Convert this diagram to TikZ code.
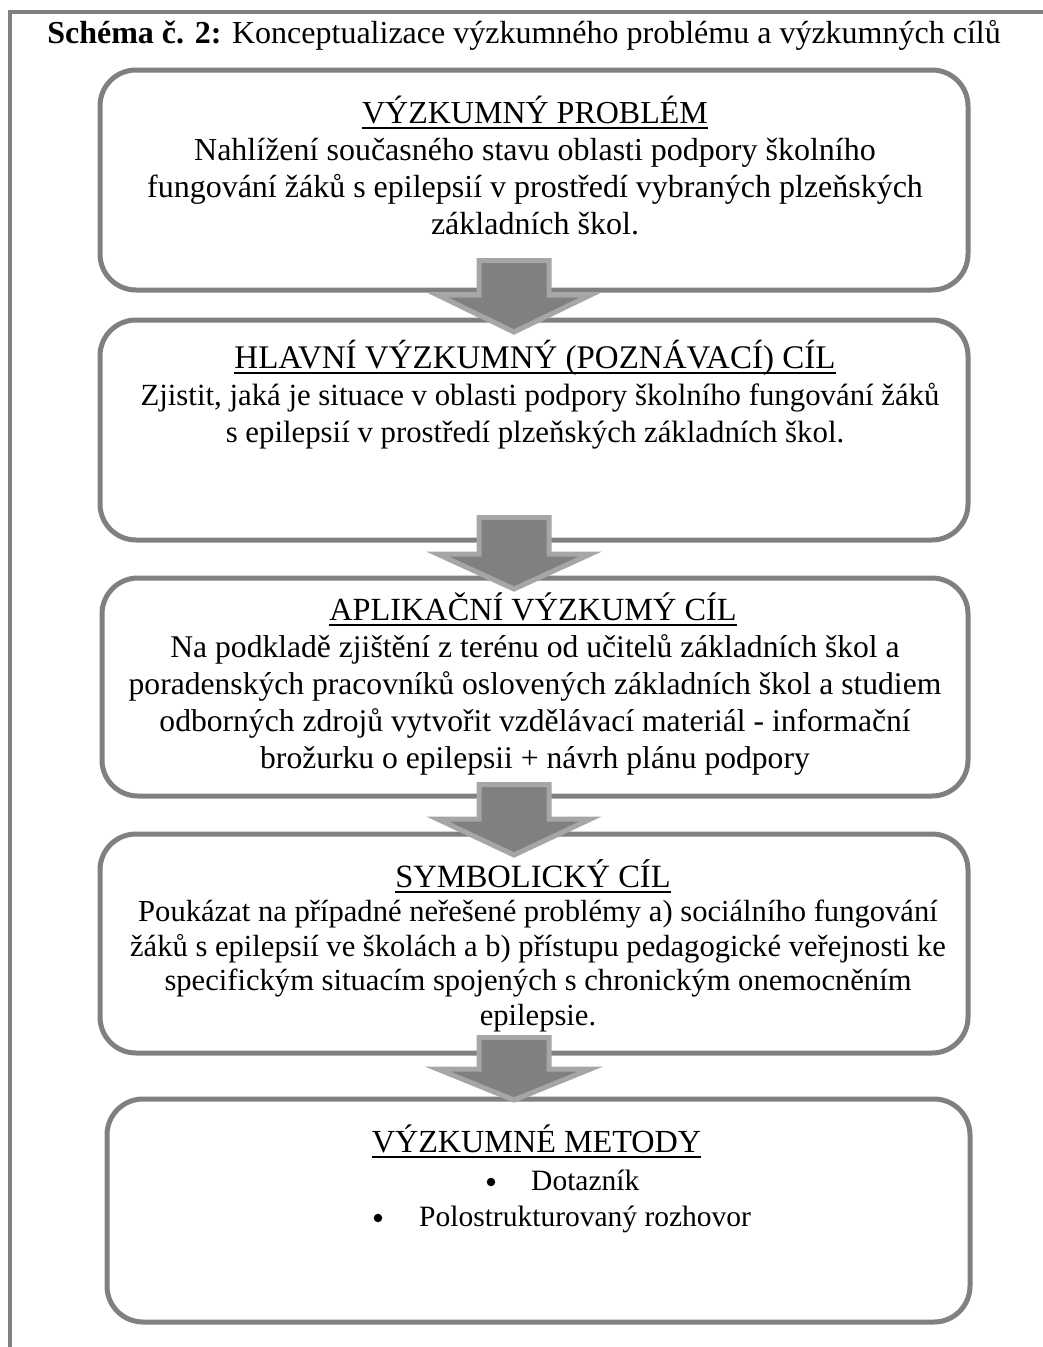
\documentclass[tikz,border=0pt]{standalone}
\usepackage{fontspec}
\setmainfont{Liberation Serif}
\definecolor{boxgray}{HTML}{808080}
\definecolor{arrowfill}{HTML}{808080}
\definecolor{arrowedge}{HTML}{A6A6A6}
\tikzset{
  box/.style={draw=boxgray, line width=5pt, rounded corners=36pt, inner sep=0pt},
  txt/.style={anchor=base, inner sep=0pt, font=\fontsize{30.5}{37}\selectfont},
  fsize/.style={font=\fontsize{#1}{37}\selectfont},
  blockarrow/.style={fill=arrowfill, draw=arrowedge, line width=5pt, line join=miter},
  framestyle/.style={draw=boxgray, line width=4pt},
  uline/.style={draw=black, line width=1.8pt},
  bulletdot/.style={circle, fill=black, inner sep=0pt, minimum size=8.5pt},
}
\newcommand\barrow[4]{%
  \draw[blockarrow] (#1-35,#2) -- (#1+35,#2) -- (#1+35,#3) -- (#1+76.5,#3) -- (#1,#4) -- (#1-76.5,#3) -- (#1-35,#3) -- cycle;}
\newcommand\headline[1]{\draw[uline] ([yshift=-5pt]#1.base west) -- ([yshift=-5pt]#1.base east);}
\begin{document}
\begin{tikzpicture}[x=1pt,y=-1pt]
\useasboundingbox (0,0) rectangle (1043,1347);
\fill[white] (0,0) rectangle (1043,1347);
% frame
\draw[framestyle] (1043,12) -- (10,12) -- (10,1347);
% title
\node[txt, fsize=32] (title) at (524,43) {\textbf{Schéma č. 2:} Konceptualizace výzkumného problému a výzkumných cílů};
% boxes
\node[box, minimum width=868pt, minimum height=220pt] (b1) at (534,180) {};
\node[box, minimum width=868pt, minimum height=220pt] (b2) at (534,430) {};
\node[box, minimum width=866pt, minimum height=218pt] (b3) at (535,687) {};
\node[box, minimum width=868pt, minimum height=219pt] (b4) at (534,943.5) {};
\node[box, minimum width=863pt, minimum height=223pt] (b5) at (538.5,1210.5) {};
% arrows
\barrow{514}{260.5}{295}{332}
\barrow{514}{517.5}{554}{589}
\barrow{514}{784.5}{819}{855}
\barrow{514}{1037.5}{1069}{1100}
% box 1
\node[txt, fsize=32] (h1) at (535,123) {VÝZKUMNÝ PROBLÉM};
\headline{h1}
\node[txt, fsize=32] (t11) at (535,160) {Nahlížení současného stavu oblasti podpory školního};
\node[txt, fsize=32] (t12) at (535,197) {fungování žáků s epilepsií v prostředí vybraných plzeňských};
\node[txt, fsize=32] (t13) at (535,234) {základních škol.};
% box 2
\node[txt, fsize=33] (h2) at (535,368) {HLAVNÍ VÝZKUMNÝ (POZNÁVACÍ) CÍL};
\headline{h2}
\node[txt, fsize=30.8] (t21) at (540,405) {Zjistit, jaká je situace v oblasti podpory školního fungování žáků};
\node[txt, fsize=30.8] (t22) at (535,442) {s epilepsií v prostředí plzeňských základních škol.};
% box 3
\node[txt, fsize=32.3] (h3) at (533,620) {APLIKAČNÍ VÝZKUMÝ CÍL};
\headline{h3}
\node[txt, fsize=31.6] (t31) at (535,657) {Na podkladě zjištění z terénu od učitelů základních škol a};
\node[txt, fsize=31.6] (t32) at (535,694) {poradenských pracovníků oslovených základních škol a studiem};
\node[txt, fsize=31.6] (t33) at (535,731) {odborných zdrojů vytvořit vzdělávací materiál - informační};
\node[txt, fsize=31.6] (t34) at (535,768) {brožurku o epilepsii + návrh plánu podpory};
% box 4
\node[txt, fsize=32.5] (h4) at (533,887) {SYMBOLICKÝ CÍL};
\headline{h4}
\node[txt, fsize=30.6] (t41) at (538,921.5) {Poukázat na případné neřešené problémy a) sociálního fungování};
\node[txt, fsize=30.6] (t42) at (538,956) {žáků s epilepsií ve školách a b) přístupu pedagogické veřejnosti ke};
\node[txt, fsize=30.6] (t43) at (538,990.5) {specifickým situacím spojených s chronickým onemocněním};
\node[txt, fsize=30.6] (t44) at (538,1025) {epilepsie.};
% box 5
\node[txt, fsize=32.2] (h5) at (536.5,1152) {VÝZKUMNÉ METODY};
\headline{h5}
\node[bulletdot] (m1b) at (491,1182) {};
\node[txt, anchor=base west, fsize=29.5] (m1) at (531,1190) {Dotazník};
\node[bulletdot] (m2b) at (378,1218) {};
\node[txt, anchor=base west, fsize=29.5] (m2) at (419,1226) {Polostrukturovaný rozhovor};
\end{tikzpicture}
\end{document}
